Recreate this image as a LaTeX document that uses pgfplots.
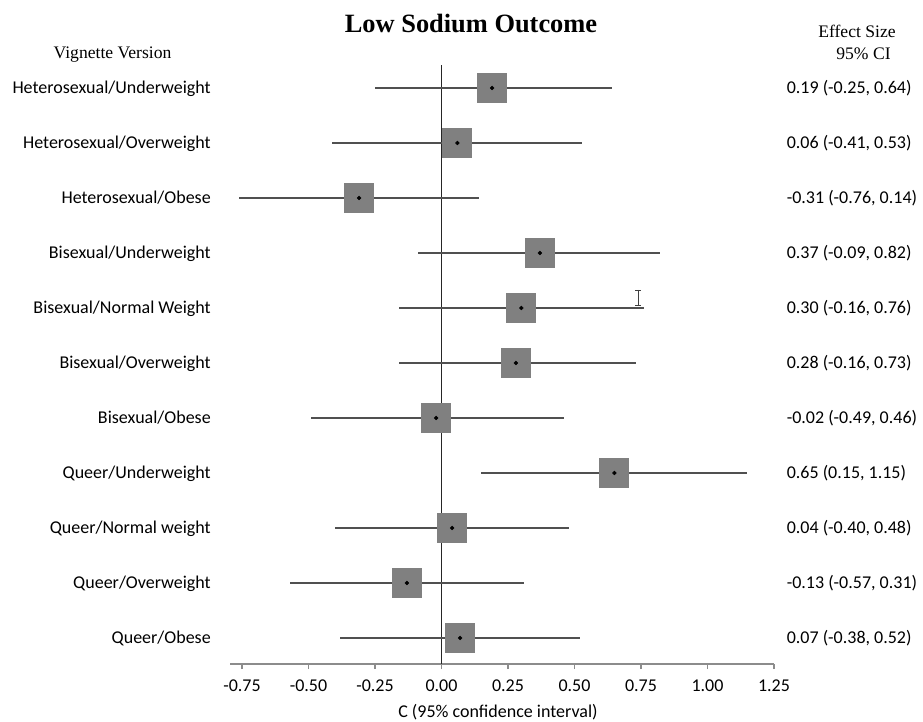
\documentclass[border=0pt]{standalone}
\usepackage{fontspec}
\setmainfont{Liberation Serif}
\newfontfamily\calfont{Carlito}
\usepackage{pgfplots}
\usepackage{pgfplotstable}
\pgfplotsset{compat=1.18}

\definecolor{boxgray}{HTML}{808080}
\definecolor{cigray}{HTML}{505050}
\definecolor{axisgray}{HTML}{8C8C8C}
\definecolor{zeroline}{HTML}{262626}

% effect size and 95% CI per vignette, pos = row (1 = bottom)
\pgfplotstableread{
pos est lo hi
1 0.07 -0.38 0.52
2 -0.13 -0.57 0.31
3 0.04 -0.40 0.48
4 0.65 0.15 1.15
5 -0.02 -0.49 0.46
6 0.28 -0.16 0.73
7 0.30 -0.16 0.76
8 0.37 -0.09 0.82
9 -0.31 -0.76 0.14
10 0.06 -0.41 0.53
11 0.19 -0.25 0.64
}\forestdata

\newcommand\calsize{\calfont\fontsize{13.5}{16}\selectfont}
% two-decimal numbers set in the text font (hyphen as minus)
\newcommand\twodec[1]{\pgfmathprintnumber[fixed, fixed zerofill, precision=2, assume math mode=true]{#1}}

\begin{document}
\begin{tikzpicture}
\path[use as bounding box] (0,0) rectangle (692.25pt,540.75pt);

\begin{axis}[
  at={(172.5pt,42.75pt)}, anchor=south west,
  scale only axis, width=408pt, height=449.25pt,
  xmin=-0.795, xmax=1.25, ymin=0.527, ymax=11.418,
  axis x line*=bottom, axis y line*=left,
  x axis line style={axisgray, line width=1.1pt, -},
  y axis line style={draw=none},
  xtick={-0.75,-0.5,-0.25,0,0.25,0.5,0.75,1,1.25},
  xticklabels={-0.75,-0.50,-0.25,0.00,0.25,0.50,0.75,1.00,1.25},
  xtick style={axisgray, line width=1pt},
  ytick={1,...,11},
  yticklabels={Queer/Obese, Queer/Overweight, Queer/Normal weight,
    Queer/Underweight, Bisexual/Obese, Bisexual/Overweight,
    Bisexual/Normal Weight, Bisexual/Underweight, Heterosexual/Obese,
    Heterosexual/Overweight, Heterosexual/Underweight},
  ytick style={draw=none},
  tick align=outside, major tick length=3.75pt,
  ticklabel style={font=\calsize},
  yticklabel style={anchor=base east, inner sep=0pt, xshift=-10.5pt, yshift=-4pt},
  xticklabel style={anchor=base, inner sep=0pt, yshift=-17pt},
  xlabel={C (95\% confidence interval)},
  xlabel style={font=\calsize, at={(axis description cs:0.5,0)},
    anchor=base, yshift=-39.75pt, xshift=-3pt},
  clip=false,
]
% effect-size boxes
\addplot[boxgray, only marks, mark=square*, mark size=10.9pt,
  mark options={fill=boxgray, draw=boxgray, line width=0pt}]
  table[x=est, y=pos] {\forestdata};
% line of no effect
\addplot[zeroline, line width=0.9pt] coordinates {(0,0.527) (0,11.418)};
% confidence intervals with centre dots
\addplot[only marks, mark=*, mark size=1.4pt, black,
  error bars/.cd, x dir=both, x explicit, error mark=none,
  error bar style={cigray, line width=1.2pt, solid}]
  table[x=est, y=pos,
    x error plus expr=\thisrow{hi}-\thisrow{est},
    x error minus expr=\thisrow{est}-\thisrow{lo}] {\forestdata};
% effect size column on the right
\addplot[only marks, mark=o, mark size=0pt, mark options={draw=none},
  visualization depends on={\thisrow{est}\as\vEst},
  visualization depends on={\thisrow{lo}\as\vLo},
  visualization depends on={\thisrow{hi}\as\vHi},
  nodes near coords={\twodec{\vEst}\ (\twodec{\vLo}, \twodec{\vHi})},
  nodes near coords style={anchor=base west, inner sep=0pt, yshift=-4pt, font=\calsize, black}]
  table[x expr=1.297, y=pos] {\forestdata};
\end{axis}

\node[anchor=base, font=\bfseries\fontsize{19.8}{24}\selectfont] at (353.25pt,516pt) {Low Sodium Outcome};
\node[anchor=base, font=\fontsize{13.2}{16}\selectfont] at (84.4pt,496.9pt) {Vignette Version};
\node[anchor=base, font=\fontsize{13.2}{16}\selectfont] at (642.75pt,512.25pt) {Effect Size};
\node[anchor=base, font=\fontsize{13.2}{16}\selectfont] at (647.6pt,496.1pt) {95\% CI};

% text cursor
\draw[black!75, line width=0.7pt] (478.5pt,323.25pt) -- (478.5pt,312pt)
  (476.6pt,323.25pt) -- (480.4pt,323.25pt)
  (476.6pt,312pt) -- (480.4pt,312pt);
\end{tikzpicture}
\end{document}
